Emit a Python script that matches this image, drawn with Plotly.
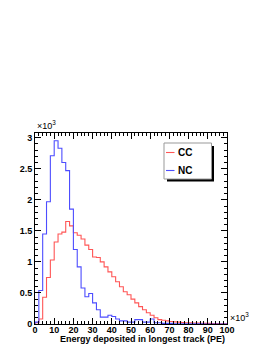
import plotly.graph_objects as go

# Histogram bin edges (PE, in units of 10^3)
bin_edges = list(range(0, 102, 2))

# Counts per bin (units of 10^3)
cc_counts = [0.02, 0.08, 0.43, 0.75, 1.03, 1.32, 1.45, 1.48, 1.65, 1.58,
             1.47, 1.43, 1.37, 1.27, 1.20, 1.08, 1.07, 1.00, 0.92, 0.84,
             0.76, 0.68, 0.60, 0.52, 0.47, 0.40, 0.34, 0.28, 0.23, 0.18,
             0.14, 0.10, 0.07, 0.06, 0.05, 0.04, 0.035, 0.03, 0.025, 0.02,
             0.02, 0.015, 0.015, 0.012, 0.01, 0.01, 0.008, 0.006, 0.005, 0.004]
nc_counts = [0.03, 0.54, 1.45, 1.97, 2.71, 2.95, 2.83, 2.60, 2.47, 1.85,
             1.20, 0.92, 0.58, 0.44, 0.49, 0.34, 0.23, 0.11, 0.11, 0.14,
             0.12, 0.08, 0.05, 0.05, 0.03, 0.03, 0.07, 0.07, 0.03, 0.03,
             0.08, 0.02, 0.02, 0.01, 0.01, 0.01, 0.005, 0.005, 0.005, 0.003,
             0.003, 0.002, 0.002, 0.002, 0.001, 0.001, 0.001, 0.0, 0.0, 0.0]

series_names = ["CC", "NC"]
series_colors = ["#ff5555", "#4d4dff"]

x_ticks = [0, 10, 20, 30, 40, 50, 60, 70, 80, 90, 100]
y_ticks = [0, 0.5, 1, 1.5, 2, 2.5, 3]
y_tick_labels = ["0", "0.5", "1", "1.5", "2", "2.5", "3"]

# page body has an 8px default margin: figure is offset by 8px
OFF = 8
W, H = 273 - OFF, 353 - OFF
L, R, T, B = 35 - OFF, 227 - OFF, 133 - OFF, 324 - OFF  # frame in figure px


def step_xy(edges, vals):
    xs = [edges[0]] + list(edges[:-1]) + [edges[-1], edges[-1]]
    ys = [0] + list(vals) + [vals[-1], 0]
    return xs, ys


fig = go.Figure()
for name, vals, col in zip(series_names, [cc_counts, nc_counts], series_colors):
    xs, ys = step_xy(bin_edges, vals)
    fig.add_trace(go.Scatter(x=xs, y=ys, mode="lines", name=name,
                             line=dict(color=col, width=1.1, shape="hv"),
                             showlegend=False, hoverinfo="skip"))

FONT = "Liberation Sans, Arial, sans-serif"
pw, ph = R - L, B - T


def px2paper(px, py):
    # px, py in reference page pixels
    return (px - OFF - L) / pw, (B - (py - OFF)) / ph


fig.update_layout(
    width=W, height=H,
    margin=dict(l=L, r=W - R, t=T, b=H - B, pad=0, autoexpand=False),
    paper_bgcolor="white", plot_bgcolor="white",
    font=dict(family=FONT, size=9, color="black"),
    xaxis=dict(range=[0, 100], tickvals=x_ticks, ticks="inside", ticklen=6,
               tickwidth=1, tickcolor="black", showline=True, linecolor="black",
               linewidth=1, mirror="allticks", showgrid=False, zeroline=False,
               automargin=False, ticklabelstandoff=-3,
               tickfont=dict(family=FONT, size=9, weight="bold"),
               minor=dict(ticks="inside", dtick=2, ticklen=3, tickcolor="black",
                          showgrid=False)),
    yaxis=dict(range=[0, 3.076], tickvals=y_ticks, ticktext=y_tick_labels,
               ticks="inside", ticklen=6, tickwidth=1, tickcolor="black",
               showline=True, linecolor="black", linewidth=1, mirror="allticks",
               showgrid=False, zeroline=False, automargin=False,
               ticklabelstandoff=0,
               tickfont=dict(family=FONT, size=9, weight="bold"),
               minor=dict(ticks="inside", dtick=0.1, ticklen=3, tickcolor="black",
                          showgrid=False)),
)

# Multiplier labels and axis title
fig.add_annotation(xref="paper", yref="paper", x=0, y=1, xanchor="left",
                   yanchor="bottom", yshift=0, showarrow=False,
                   text="×10<sup>3</sup>", font=dict(family=FONT, size=9))
fig.add_annotation(xref="paper", yref="paper", x=1, y=0, xanchor="left",
                   yanchor="bottom", xshift=1, yshift=-1, showarrow=False,
                   text="×10<sup>3</sup>", font=dict(family=FONT, size=9))
fig.add_annotation(xref="paper", yref="paper", x=1, y=-(339 - 324) / ph,
                   xanchor="right", yanchor="middle", showarrow=False,
                   text="Energy deposited in longest track (PE)",
                   font=dict(family=FONT, size=9, weight="bold"))

# Legend box (ROOT style with shadow)
bx0, by0 = px2paper(164, 143)
bx1, by1 = px2paper(211.5, 179)
sx0, sy0 = px2paper(167, 146)
sx1, sy1 = px2paper(214, 181.5)
fig.add_shape(type="rect", xref="paper", yref="paper", x0=sx0, y0=sy0, x1=sx1,
              y1=sy1, fillcolor="black", line=dict(width=0))
fig.add_shape(type="rect", xref="paper", yref="paper", x0=bx0, y0=by0, x1=bx1,
              y1=by1, fillcolor="white", line=dict(color="#999999", width=1))
for name, col, py in zip(series_names, series_colors, [152.5, 170.5]):
    lx0, ly = px2paper(166, py)
    lx1, _ = px2paper(174.5, py)
    fig.add_shape(type="line", xref="paper", yref="paper", x0=lx0, x1=lx1,
                  y0=ly, y1=ly, line=dict(color=col, width=1.1))
    tx, _ = px2paper(176, py)
    fig.add_annotation(xref="paper", yref="paper", x=tx, y=ly, xanchor="left",
                       yanchor="middle", showarrow=False, text=name,
                       font=dict(family=FONT, size=10, weight="bold"))

fig.write_html("out.html")
